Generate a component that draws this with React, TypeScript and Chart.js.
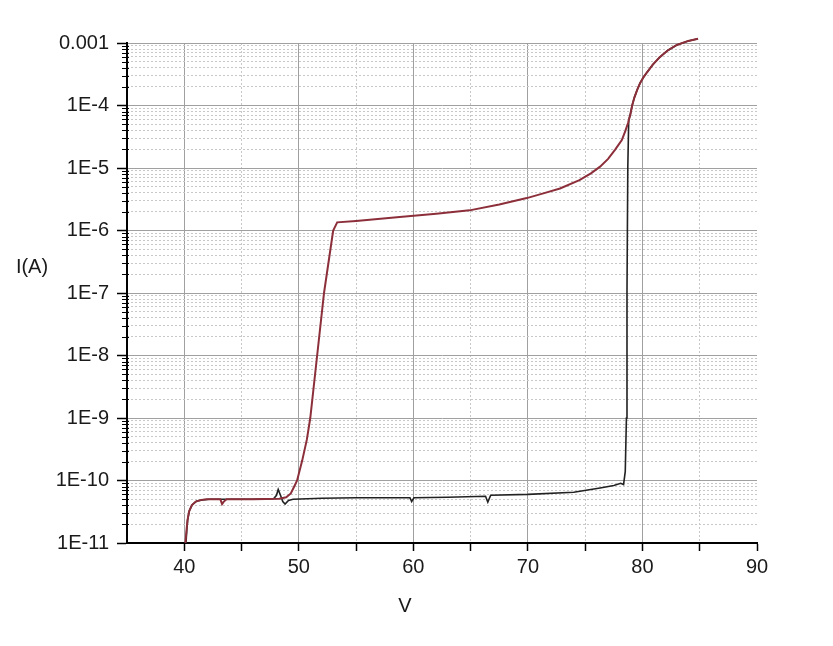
import { useEffect, useRef } from 'react';
import { Chart, registerables } from 'chart.js';

Chart.register(...registerables);

// ---- data ----
const xTitle = 'V';
const yTitle = 'I(A)';
const xMin = 35;
const xMax = 90;
const xTickValues = [40, 45, 50, 55, 60, 65, 70, 75, 80, 85, 90];
const xMinorGridValues = [45, 55, 65, 75, 85];
const yDecadeValues = [1e-11, 1e-10, 1e-9, 1e-8, 1e-7, 1e-6, 1e-5, 1e-4, 1e-3];
const yMinorMultipliers = [2, 3, 4, 5, 6, 7, 8, 9];

const blackV = [40.15, 40.22, 40.3, 40.45, 40.7, 41.1, 41.6, 42.2, 44, 46, 47.8, 48.05, 48.2, 48.4, 48.6, 48.8, 49.1, 49.5, 52, 55, 59.7, 59.85, 60.05, 63, 66.3, 66.5, 66.75, 70, 74, 76.3, 77.5, 78.1, 78.35, 78.5, 78.6, 78.65, 78.72, 78.8, 78.95, 79.1, 79.3, 79.55, 79.8, 80.1, 80.4, 80.9, 81.5, 82.2, 83, 84, 84.85];
const blackI = [1e-11, 1.6e-11, 2.4e-11, 3.3e-11, 4.1e-11, 4.7e-11, 4.9e-11, 5e-11, 5e-11, 5e-11, 5.1e-11, 5.8e-11, 7.2e-11, 5.8e-11, 4.6e-11, 4.2e-11, 4.8e-11, 5e-11, 5.2e-11, 5.3e-11, 5.3e-11, 4.6e-11, 5.3e-11, 5.4e-11, 5.6e-11, 4.5e-11, 5.8e-11, 6e-11, 6.5e-11, 7.6e-11, 8.3e-11, 9e-11, 8.6e-11, 1.4e-10, 1e-9, 1e-7, 1e-5, 5.8e-5, 7.3e-5, 1e-4, 1.35e-4, 1.8e-4, 2.3e-4, 2.85e-4, 3.4e-4, 4.5e-4, 5.9e-4, 7.6e-4, 9.3e-4, 1.08e-3, 1.17e-3];

const redV = [40.1, 40.18, 40.28, 40.42, 40.65, 41.0, 41.5, 42.0, 43.15, 43.3, 43.45, 43.7, 46, 48.3, 48.9, 49.3, 49.6, 49.85, 50.3, 50.7, 51.0, 51.6, 52.2, 53.0, 53.35, 55, 58.8, 62, 64.9, 67.5, 69.9, 71.5, 72.8, 74.5, 75.5, 76.3, 77.0, 77.6, 78.2, 78.5, 78.75, 78.95, 79.1, 79.3, 79.55, 79.8, 80.1, 80.4, 80.9, 81.5, 82.2, 83, 84, 84.85];
const redI = [1e-11, 1.5e-11, 2.3e-11, 3.2e-11, 4e-11, 4.6e-11, 4.9e-11, 5e-11, 5e-11, 4.2e-11, 4.6e-11, 5e-11, 5e-11, 5.1e-11, 5.4e-11, 6.2e-11, 8e-11, 1e-10, 2.1e-10, 4.5e-10, 1e-9, 1e-8, 1e-7, 1e-6, 1.35e-6, 1.42e-6, 1.64e-6, 1.85e-6, 2.1e-6, 2.6e-6, 3.3e-6, 4e-6, 4.7e-6, 6.4e-6, 8.2e-6, 1.05e-5, 1.4e-5, 1.95e-5, 2.8e-5, 3.9e-5, 5.3e-5, 7.3e-5, 1e-4, 1.35e-4, 1.8e-4, 2.3e-4, 2.85e-4, 3.4e-4, 4.5e-4, 5.9e-4, 7.6e-4, 9.3e-4, 1.08e-3, 1.17e-3];

const FONT_FAMILY = '"Liberation Sans", Arial, sans-serif';

const yMinorValues: number[] = [];
yDecadeValues.slice(0, -1).forEach((d) => {
  yMinorMultipliers.forEach((m) => yMinorValues.push(Number((m * d).toPrecision(3))));
});

const formatY = (v: number) => {
  const e = Math.round(Math.log10(v));
  if (e === -3) return '0.001';
  return '1E' + e;
};

const decorPlugin = {
  id: 'decor',
  afterDraw(chart: any) {
    const ctx = chart.ctx;
    const ys = chart.scales.y;
    const left = chart.chartArea.left;
    ctx.save();
    ctx.strokeStyle = '#000';
    ctx.lineWidth = 1;
    yMinorValues.forEach((v) => {
      const py = Math.round(ys.getPixelForValue(v)) + 0.5;
      ctx.beginPath();
      ctx.moveTo(left - 5, py);
      ctx.lineTo(left + 2, py);
      ctx.stroke();
    });
    ctx.fillStyle = '#1a1a1a';
    ctx.font = '20px ' + FONT_FAMILY;
    ctx.textAlign = 'center';
    ctx.textBaseline = 'middle';
    ctx.fillText(yTitle, 32, 267);
    ctx.fillText(xTitle, 405, 606);
    ctx.restore();
  },
};

export default function App() {
  const canvasRef = useRef<HTMLCanvasElement | null>(null);

  useEffect(() => {
    if (!canvasRef.current) return;
    const chart = new Chart(canvasRef.current, {
      type: 'scatter',
      data: {
        datasets: [
          {
            label: 'reverse',
            data: redV.map((v, i) => ({ x: v, y: redI[i] })),
            showLine: true,
            borderColor: '#8c2f3a',
            borderWidth: 2,
            pointRadius: 0,
            tension: 0,
            clip: false as any,
          },
          {
            label: 'forward',
            data: blackV.map((v, i) => ({ x: v, y: blackI[i] })),
            showLine: true,
            borderColor: '#222222',
            borderWidth: 1.6,
            pointRadius: 0,
            tension: 0,
            clip: false as any,
          },
        ],
      },
      options: {
        animation: false,
        responsive: false,
        layout: { padding: { top: 43, right: 76, left: 0, bottom: 0 } },
        plugins: {
          legend: { display: false },
          tooltip: { enabled: false },
        },
        scales: {
          x: {
            type: 'linear',
            position: 'bottom',
            min: xMin,
            max: xMax,
            afterFit: (s: any) => {
              s.height = 103;
            },
            afterBuildTicks: (s: any) => {
              s.ticks = xTickValues.map((v) => ({ value: v }));
            },
            ticks: {
              autoSkip: false,
              maxRotation: 0,
              padding: 4,
              color: '#1a1a1a',
              font: { family: FONT_FAMILY, size: 20 },
              callback: (v: any) => (Number(v) % 10 === 0 ? String(v) : ''),
            },
            grid: {
              color: (c: any) =>
                c.tick && c.tick.value % 10 === 0 && c.tick.value !== xMax ? '#a0a0a0' : 'rgba(0,0,0,0)',
              lineWidth: 1,
              tickColor: '#000',
              tickLength: 8,
              tickWidth: 1.5,
            },
            border: { display: true, color: '#000', width: 2 },
          },
          x2: {
            type: 'linear',
            position: 'bottom',
            min: xMin,
            max: xMax,
            afterFit: (s: any) => {
              s.height = 0;
            },
            afterBuildTicks: (s: any) => {
              s.ticks = xMinorGridValues.map((v) => ({ value: v }));
            },
            ticks: { display: false },
            grid: { color: '#c8c8c8', lineWidth: 1, drawTicks: false },
            border: { display: false, dash: [2, 2] },
          },
          y: {
            type: 'logarithmic',
            position: 'left',
            min: 1e-11,
            max: 1e-3,
            afterFit: (s: any) => {
              s.width = 127;
            },
            afterBuildTicks: (s: any) => {
              s.ticks = yDecadeValues.map((v) => ({ value: v }));
            },
            ticks: {
              autoSkip: false,
              padding: 8,
              color: '#1a1a1a',
              font: { family: FONT_FAMILY, size: 20 },
              callback: (v: any) => formatY(Number(v)),
            },
            grid: {
              color: (c: any) => (c.tick && c.tick.value > 1.5e-11 ? '#a0a0a0' : 'rgba(0,0,0,0)'),
              lineWidth: 1,
              tickColor: '#000',
              tickLength: 10,
              tickWidth: 1.5,
            },
            border: { display: true, color: '#000', width: 2 },
          },
          y2: {
            type: 'logarithmic',
            position: 'left',
            min: 1e-11,
            max: 1e-3,
            afterFit: (s: any) => {
              s.width = 0;
            },
            afterBuildTicks: (s: any) => {
              s.ticks = yMinorValues.map((v) => ({ value: v }));
            },
            ticks: { display: false, autoSkip: false },
            grid: { color: '#c8c8c8', lineWidth: 1, drawTicks: false },
            border: { display: false, dash: [2, 2] },
          },
        },
      } as any,
      plugins: [decorPlugin],
    });
    return () => chart.destroy();
  }, []);

  return (
    <div style={{ position: 'fixed', left: 0, top: 0, width: 833, height: 646, background: '#fff' }}>
      <canvas ref={canvasRef} width={833} height={646} />
    </div>
  );
}
